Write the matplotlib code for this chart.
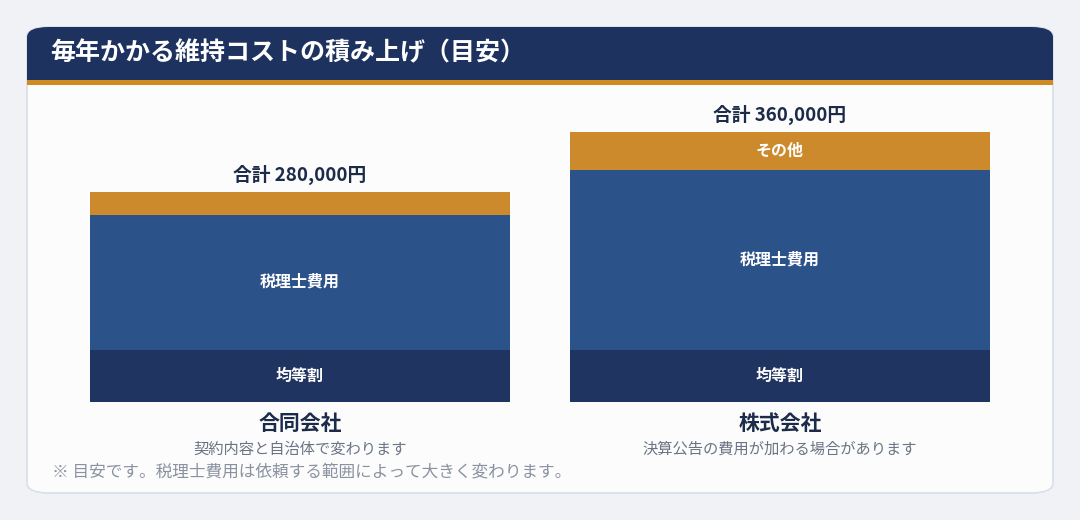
import matplotlib.pyplot as plt
from matplotlib.patches import FancyBboxPatch, Rectangle

plt.rcParams['font.family'] = ['Noto Sans CJK JP', 'DejaVu Sans']

companies = ['合同会社', '株式会社']
subtitles = ['契約内容と自治体で変わります', '決算公告の費用が加わる場合があります']
segments = ['均等割', '税理士費用', 'その他']
values = {
    '均等割': [70000, 70000],
    '税理士費用': [180000, 240000],
    'その他': [30000, 50000],
}
colors = {'均等割': '#1f3461', '税理士費用': '#2c528a', 'その他': '#cd8a2c'}
show_label = {'均等割': [True, True], '税理士費用': [True, True], 'その他': [False, True]}

W, H = 1080, 520
fig = plt.figure(figsize=(W / 100, H / 100), dpi=100)
fig.patch.set_facecolor('#f1f2f5')

def fx(x): return x / W
def fy(y): return 1 - y / H

# card
fig.patches.append(FancyBboxPatch((fx(27), fy(493)), fx(1026), (493 - 27) / H,
                                  boxstyle='round,pad=0,rounding_size=0.02',
                                  transform=fig.transFigure, facecolor='#fbfcfb',
                                  edgecolor='#d9dee8', lw=1.2))
# header
fig.patches.append(FancyBboxPatch((fx(27), fy(80)), fx(1026), 53 / H,
                                  boxstyle='round,pad=0,rounding_size=0.02',
                                  transform=fig.transFigure, facecolor='#1d325f', lw=0))
fig.patches.append(Rectangle((fx(27), fy(80)), fx(1026), 20 / H,
                             transform=fig.transFigure, facecolor='#1d325f', lw=0))
fig.patches.append(Rectangle((fx(27), fy(85)), fx(1026), 5 / H,
                             transform=fig.transFigure, facecolor='#d08a22', lw=0))
fig.text(fx(50), fy(53), '毎年かかる維持コストの積み上げ（目安）', color='white',
         fontsize=18, fontweight='bold', va='center')

ax = fig.add_axes([fx(60), fy(402), fx(960), 300 / H])
ax.set_zorder(5)
ax.patch.set_alpha(0)
ax.set_xlim(-0.5, 1.5)
ax.set_ylim(0, 400000)
ax.axis('off')

x = [0, 1]
bottom = [0, 0]
for seg in segments:
    v = values[seg]
    ax.bar(x, v, 0.875, bottom=bottom, color=colors[seg], edgecolor='none')
    for i in x:
        if show_label[seg][i]:
            ax.text(i, bottom[i] + v[i] / 2, seg, ha='center', va='center',
                    color='white', fontsize=11.5, fontweight='bold')
    bottom = [b + vv for b, vv in zip(bottom, v)]

for i in x:
    ax.text(i, bottom[i] + 9000, f'合計 {bottom[i]:,}円', ha='center', va='bottom',
            color='#1c2b4a', fontsize=13.5, fontweight='bold')

centers = [300, 780]
for c, name, sub in zip(centers, companies, subtitles):
    fig.text(fx(c), fy(423), name, ha='center', va='center', fontsize=15,
             fontweight='bold', color='#1c2b4a')
    fig.text(fx(c), fy(449), sub, ha='center', va='center', fontsize=11, color='#6b7385')

fig.text(fx(52), fy(472), '※ 目安です。税理士費用は依頼する範囲によって大きく変わります。',
         va='center', fontsize=12, color='#8a91a0')

fig.savefig('out.png', dpi=100, facecolor=fig.get_facecolor())
